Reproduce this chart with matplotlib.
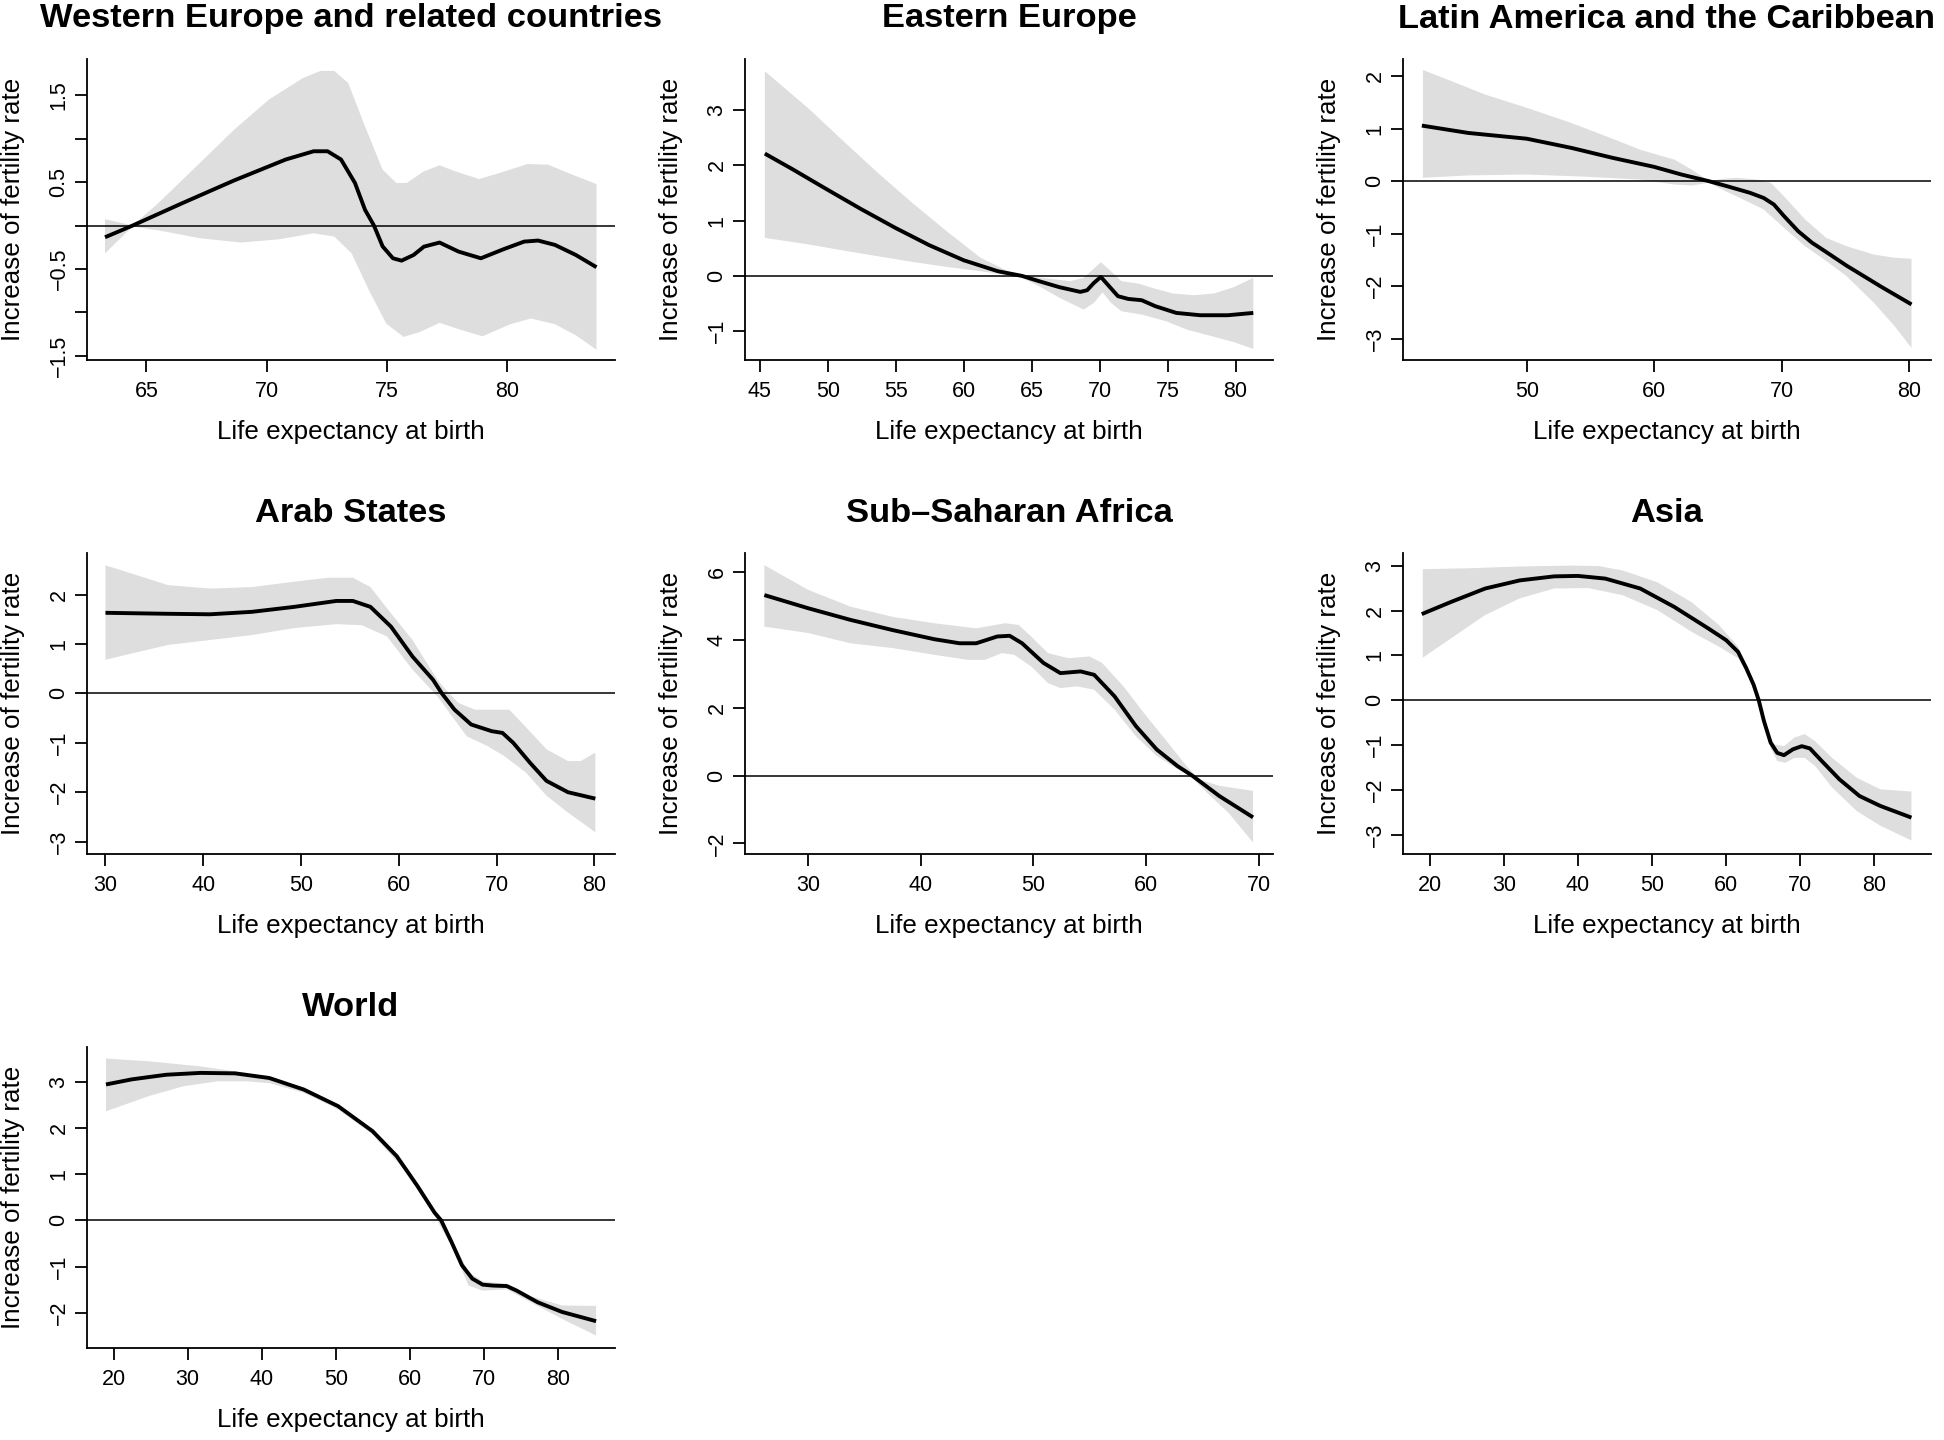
import numpy as np
import matplotlib.pyplot as plt
from matplotlib.transforms import Bbox, TransformedBbox

plt.rcParams['font.family'] = ['Liberation Sans', 'DejaVu Sans']

# ---- data (x: life expectancy, y: increase of fertility rate)
# Western Europe and related countries
we_x = [63.28, 64.43, 66.5, 68.66, 70.8, 71.96, 72.54, 73.1, 73.68, 74.1, 74.47, 74.83, 75.26, 75.62, 76.12,
        76.55, 77.2, 77.99, 78.92, 79.86, 80.72, 81.3, 82.0, 82.87, 83.73]
we_y = [-0.135, 0.0, 0.258, 0.52, 0.76, 0.855, 0.855, 0.76, 0.49, 0.18, 0.0, -0.24, -0.377, -0.404, -0.339,
        -0.243, -0.196, -0.30, -0.377, -0.273, -0.185, -0.173, -0.223, -0.339, -0.48]
we_ux = [63.28, 64.43, 65.5, 66.94, 68.66, 70.1, 71.53, 72.25, 72.82, 73.4, 74.1, 74.83, 75.4, 75.84, 76.55,
         77.2, 77.85, 78.85, 79.7, 80.86, 81.72, 82.73, 83.73]
we_uy = [0.073, 0.0, 0.258, 0.643, 1.105, 1.45, 1.70, 1.78, 1.78, 1.64, 1.14, 0.643, 0.49, 0.49, 0.624,
         0.693, 0.624, 0.535, 0.605, 0.708, 0.70, 0.585, 0.477]
we_lx = [63.28, 64.43, 65.8, 67.22, 68.95, 70.53, 71.96, 72.82, 73.54, 74.26, 74.98, 75.7, 76.4, 77.2, 78.13,
         78.99, 80.14, 81.0, 82.0, 82.87, 83.73]
we_ly = [-0.32, -0.01, -0.07, -0.146, -0.196, -0.158, -0.089, -0.127, -0.32, -0.743, -1.128, -1.282, -1.224,
         -1.12, -1.205, -1.275, -1.136, -1.07, -1.136, -1.263, -1.43]

# Eastern Europe
ee_x = [45.38, 47.4, 49.9, 52.44, 54.96, 57.48, 60.0, 62.52, 64.29, 65.55, 67.06, 68.58, 69.08, 69.58, 70.09,
        70.59, 71.35, 72.1, 73.1, 74.1, 75.64, 77.4, 79.42, 81.3]
ee_y = [2.21, 1.93, 1.57, 1.21, 0.87, 0.554, 0.283, 0.084, 0.0, -0.096, -0.205, -0.289, -0.259, -0.127, -0.018,
        -0.157, -0.367, -0.416, -0.44, -0.548, -0.669, -0.711, -0.711, -0.669]
ee_ux = [45.38, 48.66, 51.18, 53.7, 56.22, 58.74, 61.26, 63.28, 64.29, 65.8, 67.82, 68.83, 70.09, 70.84, 71.6,
         72.86, 73.87, 75.38, 76.9, 78.41, 79.92, 81.3]
ee_uy = [3.70, 3.01, 2.43, 1.86, 1.32, 0.81, 0.325, 0.084, 0.0, -0.036, -0.096, -0.036, 0.247, 0.084, -0.096,
         -0.139, -0.217, -0.319, -0.349, -0.319, -0.199, -0.036]
ee_lx = [45.38, 48.66, 51.18, 53.7, 56.22, 58.74, 61.26, 63.28, 64.29, 65.55, 67.06, 68.83, 69.58, 70.21, 70.84,
         71.6, 73.1, 74.88, 76.4, 78.41, 79.92, 81.3]
ee_ly = [0.687, 0.566, 0.458, 0.355, 0.253, 0.163, 0.084, 0.012, -0.036, -0.187, -0.398, -0.608, -0.488, -0.295,
         -0.488, -0.639, -0.699, -0.819, -0.97, -1.10, -1.20, -1.32]

# Latin America and the Caribbean
la_x = [41.77, 45.41, 50, 53.5, 56.74, 60, 62.14, 64.3, 65.9, 67.5, 68.6, 69.4, 70.2, 71.3, 72.4, 73.5, 75.1,
        77.8, 80.2]
la_y = [1.06, 0.92, 0.81, 0.635, 0.445, 0.273, 0.127, 0.0, -0.108, -0.22, -0.32, -0.445, -0.667, -0.953, -1.175,
        -1.35, -1.61, -2.01, -2.35]
la_ux = [41.85, 44.07, 46.76, 50, 53.5, 56.2, 58.9, 61.6, 62.95, 64.3, 65.4, 66.46, 68.07, 69.15, 70.2, 71.85,
         73.5, 75.1, 77.25, 78.86, 80.2]
la_uy = [2.12, 1.91, 1.65, 1.40, 1.11, 0.86, 0.60, 0.41, 0.22, 0.0, 0.045, 0.064, 0.03, -0.03, -0.29, -0.73,
         -1.08, -1.24, -1.40, -1.46, -1.48]
la_lx = [41.85, 45.41, 50, 54.86, 58.9, 61.6, 62.95, 64.3, 65.6, 67.0, 68.6, 70.2, 71.85, 73.5, 75.1, 77.25,
         78.86, 80.2]
la_ly = [0.064, 0.11, 0.127, 0.083, 0.03, -0.064, -0.083, -0.03, -0.19, -0.35, -0.54, -0.89, -1.24, -1.52,
         -1.81, -2.32, -2.76, -3.18]

# Arab States
ar_x = [30, 36.4, 40.7, 45.0, 49.3, 53.6, 55.3, 57.1, 59.2, 61.4, 63.5, 64.4, 65.7, 67.4, 69.5, 70.6, 71.7, 73.4,
        75.1, 77.3, 80.1]
ar_y = [1.63, 1.61, 1.60, 1.65, 1.75, 1.87, 1.87, 1.75, 1.35, 0.745, 0.275, 0.0, -0.33, -0.63, -0.765, -0.80,
        -1.0, -1.40, -1.77, -2.0, -2.13]
ar_ux = [30, 32.1, 36.4, 40.7, 45.0, 49.3, 52.8, 55.3, 57.1, 59.2, 61.4, 63.95, 64.8, 66.1, 67.8, 70.0, 71.3,
         72.6, 75.1, 77.3, 78.6, 80.1]
ar_uy = [2.59, 2.46, 2.19, 2.12, 2.15, 2.26, 2.34, 2.34, 2.15, 1.62, 1.08, 0.275, 0.074, -0.195, -0.33, -0.33,
         -0.33, -0.60, -1.13, -1.37, -1.37, -1.20]
ar_lx = [30, 32.1, 36.4, 40.7, 45.0, 49.3, 53.6, 56.2, 58.8, 61.4, 63.95, 65.2, 66.96, 69.1, 70.8, 72.99, 75.1,
         77.3, 80.1]
ar_ly = [0.68, 0.78, 0.98, 1.08, 1.18, 1.32, 1.40, 1.38, 1.15, 0.48, -0.06, -0.40, -0.87, -1.07, -1.27, -1.60,
         -2.07, -2.41, -2.81]

# Sub-Saharan Africa
ss_x = [26.13, 30.04, 33.76, 37.49, 41.2, 43.45, 44.93, 46.8, 47.9, 49.0, 50.9, 52.4, 54.2, 55.4, 57.2, 59.1,
        60.95, 62.8, 64.1, 66.5, 69.5]
ss_y = [5.32, 4.93, 4.59, 4.29, 4.02, 3.90, 3.90, 4.10, 4.12, 3.90, 3.32, 3.02, 3.07, 2.97, 2.34, 1.46, 0.77,
        0.28, 0.0, -0.60, -1.23]
ss_ux = [26.13, 30.04, 33.76, 37.49, 41.2, 44.93, 47.5, 48.7, 49.8, 51.3, 53.1, 55.0, 56.1, 58.0, 59.8, 61.7,
         63.6, 64.7, 66.5, 69.5]
ss_uy = [6.20, 5.47, 4.98, 4.68, 4.49, 4.34, 4.49, 4.44, 4.10, 3.61, 3.46, 3.51, 3.32, 2.63, 1.85, 1.07, 0.28,
         -0.11, -0.30, -0.45]
ss_lx = [26.13, 30.04, 33.76, 37.49, 41.2, 44.2, 45.7, 47.2, 48.3, 49.8, 51.3, 52.4, 53.9, 55.4, 57.2, 59.1,
         60.95, 62.8, 63.9, 65.4, 67.3, 69.5]
ss_ly = [4.39, 4.20, 3.90, 3.76, 3.56, 3.41, 3.41, 3.61, 3.56, 3.22, 2.73, 2.58, 2.63, 2.53, 1.95, 1.16, 0.58,
         0.19, 0.0, -0.50, -1.09, -1.97]

# Asia
as_x = [18.93, 22.87, 27.5, 32.15, 36.8, 40.0, 43.7, 48.4, 53.0, 57.6, 60.0, 61.6, 62.7, 63.7, 64.4, 65.1, 66.0,
        66.9, 67.8, 69.0, 70.2, 71.3, 72.9, 75.3, 78.0, 80.8, 85.0]
as_y = [1.92, 2.19, 2.49, 2.67, 2.76, 2.77, 2.71, 2.49, 2.08, 1.60, 1.34, 1.08, 0.72, 0.35, 0.0, -0.46, -0.94,
        -1.17, -1.22, -1.09, -1.02, -1.07, -1.35, -1.76, -2.13, -2.35, -2.61]
as_ux = [19.07, 25.2, 32.15, 39.1, 42.8, 46.05, 50.7, 55.3, 59.0, 61.6, 62.7, 63.7, 64.6, 65.5, 66.45, 67.8,
         69.2, 70.6, 72.0, 74.3, 77.6, 80.8, 85.0]
as_uy = [2.92, 2.94, 2.98, 3.00, 2.99, 2.89, 2.63, 2.19, 1.68, 1.20, 0.79, 0.35, -0.10, -0.58, -0.98, -1.02,
         -0.83, -0.75, -0.91, -1.28, -1.72, -1.98, -2.03]
as_lx = [19.07, 22.87, 27.5, 32.15, 36.8, 41.4, 46.05, 50.7, 55.3, 59.4, 61.6, 62.7, 63.7, 64.4, 65.1, 66.0,
         66.9, 68.0, 69.2, 70.6, 72.0, 74.3, 77.6, 80.8, 85.0]
as_ly = [0.95, 1.38, 1.90, 2.27, 2.49, 2.50, 2.34, 2.01, 1.53, 1.16, 0.94, 0.64, 0.27, -0.02, -0.54, -1.06,
         -1.35, -1.39, -1.28, -1.28, -1.46, -1.94, -2.46, -2.79, -3.12]

# World
wo_x = [18.98, 22.46, 27.1, 31.74, 36.4, 41.0, 45.66, 50.3, 54.94, 58.2, 60.97, 63.3, 64.2, 65.6, 67.0, 68.4,
        69.8, 71.2, 73.04, 74.4, 77.2, 80.5, 85.1]
wo_y = [2.94, 3.05, 3.15, 3.19, 3.18, 3.08, 2.83, 2.47, 1.93, 1.39, 0.75, 0.17, 0.0, -0.47, -0.97, -1.26, -1.39,
        -1.41, -1.42, -1.52, -1.77, -1.98, -2.18]
wo_ux = [18.98, 24.8, 31.74, 37.8, 41.0, 45.66, 50.3, 54.94, 59.6, 63.3, 65.6, 67.9, 69.8, 73.04, 75.8, 80.5,
         85.1]
wo_uy = [3.50, 3.44, 3.33, 3.19, 3.08, 2.87, 2.51, 1.97, 1.14, 0.24, -0.40, -1.12, -1.32, -1.37, -1.62, -1.84,
         -1.85]
wo_lx = [18.98, 24.8, 29.4, 34.1, 37.8, 41.0, 45.66, 50.3, 54.94, 59.6, 63.3, 65.6, 67.9, 69.8, 73.04, 75.8,
         80.5, 85.1]
wo_ly = [2.36, 2.69, 2.90, 3.01, 3.01, 2.97, 2.76, 2.40, 1.86, 1.03, 0.10, -0.55, -1.41, -1.52, -1.49, -1.73,
         -2.13, -2.49]

titles = ['Western Europe and related countries', 'Eastern Europe', 'Latin America and the Caribbean',
          'Arab States', 'Sub\u2013Saharan Africa', 'Asia', 'World']

curves = [(we_x, we_y), (ee_x, ee_y), (la_x, la_y), (ar_x, ar_y), (ss_x, ss_y), (as_x, as_y), (wo_x, wo_y)]
bands = [(we_ux, we_uy, we_lx, we_ly), (ee_ux, ee_uy, ee_lx, ee_ly), (la_ux, la_uy, la_lx, la_ly),
         (ar_ux, ar_uy, ar_lx, ar_ly), (ss_ux, ss_uy, ss_lx, ss_ly), (as_ux, as_uy, as_lx, as_ly),
         (wo_ux, wo_uy, wo_lx, wo_ly)]

xticks = [[65, 70, 75, 80], [45, 50, 55, 60, 65, 70, 75, 80], [50, 60, 70, 80], [30, 40, 50, 60, 70, 80],
          [30, 40, 50, 60, 70], [20, 30, 40, 50, 60, 70, 80], [20, 30, 40, 50, 60, 70, 80]]
yticks = [[-1.5, -1, -0.5, 0, 0.5, 1, 1.5], [-1, 0, 1, 2, 3], [-3, -2, -1, 0, 1, 2], [-3, -2, -1, 0, 1, 2],
          [-2, 0, 2, 4, 6], [-3, -2, -1, 0, 1, 2, 3], [-2, -1, 0, 1, 2, 3]]
ylabels_we = ['\u22121.5', '', '\u22120.5', '', '0.5', '', '1.5']

xlims = [(62.53, 84.5), (43.92, 82.75), (40.29, 81.73), (28.11, 82.11), (24.41, 71.27), (16.40, 87.64),
         (16.42, 87.65)]
ylims = [(-1.548, 1.917), (-1.52, 3.92), (-3.41, 2.33), (-3.25, 2.84), (-2.31, 6.56), (-3.42, 3.28),
         (-2.76, 3.75)]

W, H = 1944, 1440
fig = plt.figure(figsize=(W / 100, H / 100), dpi=100)

col_left = [87, 745, 1403]
row_top = [59, 553, 1047]
aw, ah = 528, 301


def fmt(v):
    return ('%g' % v).replace('-', '\u2212')


for i in range(7):
    r, c = divmod(i, 3)
    ax = fig.add_axes([col_left[c] / W, 1 - (row_top[r] + ah) / H, aw / W, ah / H])
    ux, uy, lx, ly = bands[i]
    ax.fill(np.concatenate([ux, lx[::-1]]), np.concatenate([uy, ly[::-1]]),
            color='#dedede', lw=0, zorder=1)
    ax.axhline(0, color='black', lw=1.1, zorder=2)
    ax.plot(curves[i][0], curves[i][1], color='black', lw=2.8, zorder=3,
            solid_capstyle='butt', solid_joinstyle='round')

    ax.set_xlim(*xlims[i])
    ax.set_ylim(*ylims[i])
    ax.set_xticks(xticks[i])
    ax.set_xticklabels([fmt(v) for v in xticks[i]])
    ax.set_yticks(yticks[i])
    if i == 0:
        ax.set_yticklabels(ylabels_we)
    else:
        ax.set_yticklabels([fmt(v) for v in yticks[i]])
    for lbl in ax.get_yticklabels():
        lbl.set_rotation(90)
        lbl.set_va('center')

    for s in ['top', 'right']:
        ax.spines[s].set_visible(False)
    for s in ['left', 'bottom']:
        ax.spines[s].set_linewidth(1.3)
    ax.tick_params(axis='both', direction='out', length=8.6, width=1.3, labelsize=15.5)
    ax.tick_params(axis='x', pad=6.5)
    ax.tick_params(axis='y', pad=4)

    ax.set_xlabel('Life expectancy at birth', fontsize=18.7)
    ax.xaxis.label.set_va('center')
    ax.xaxis.set_label_coords(0.5, -72 / ah)
    ax.set_ylabel('Increase of fertility rate', fontsize=18.7)
    ax.yaxis.label.set_va('center')
    ax.yaxis.set_label_coords(-74 / aw, 0.5)

    t = ax.text(0.5, 1 + 40 / ah, titles[i], transform=ax.transAxes, ha='center', va='center',
                fontsize=24.8, fontweight='bold')
    if i == 0:
        t.set_clip_on(True)
        t.set_clip_box(TransformedBbox(Bbox([[0, 0], [661 / W, 1]]), fig.transFigure))

fig.savefig('out.png', dpi=100)
